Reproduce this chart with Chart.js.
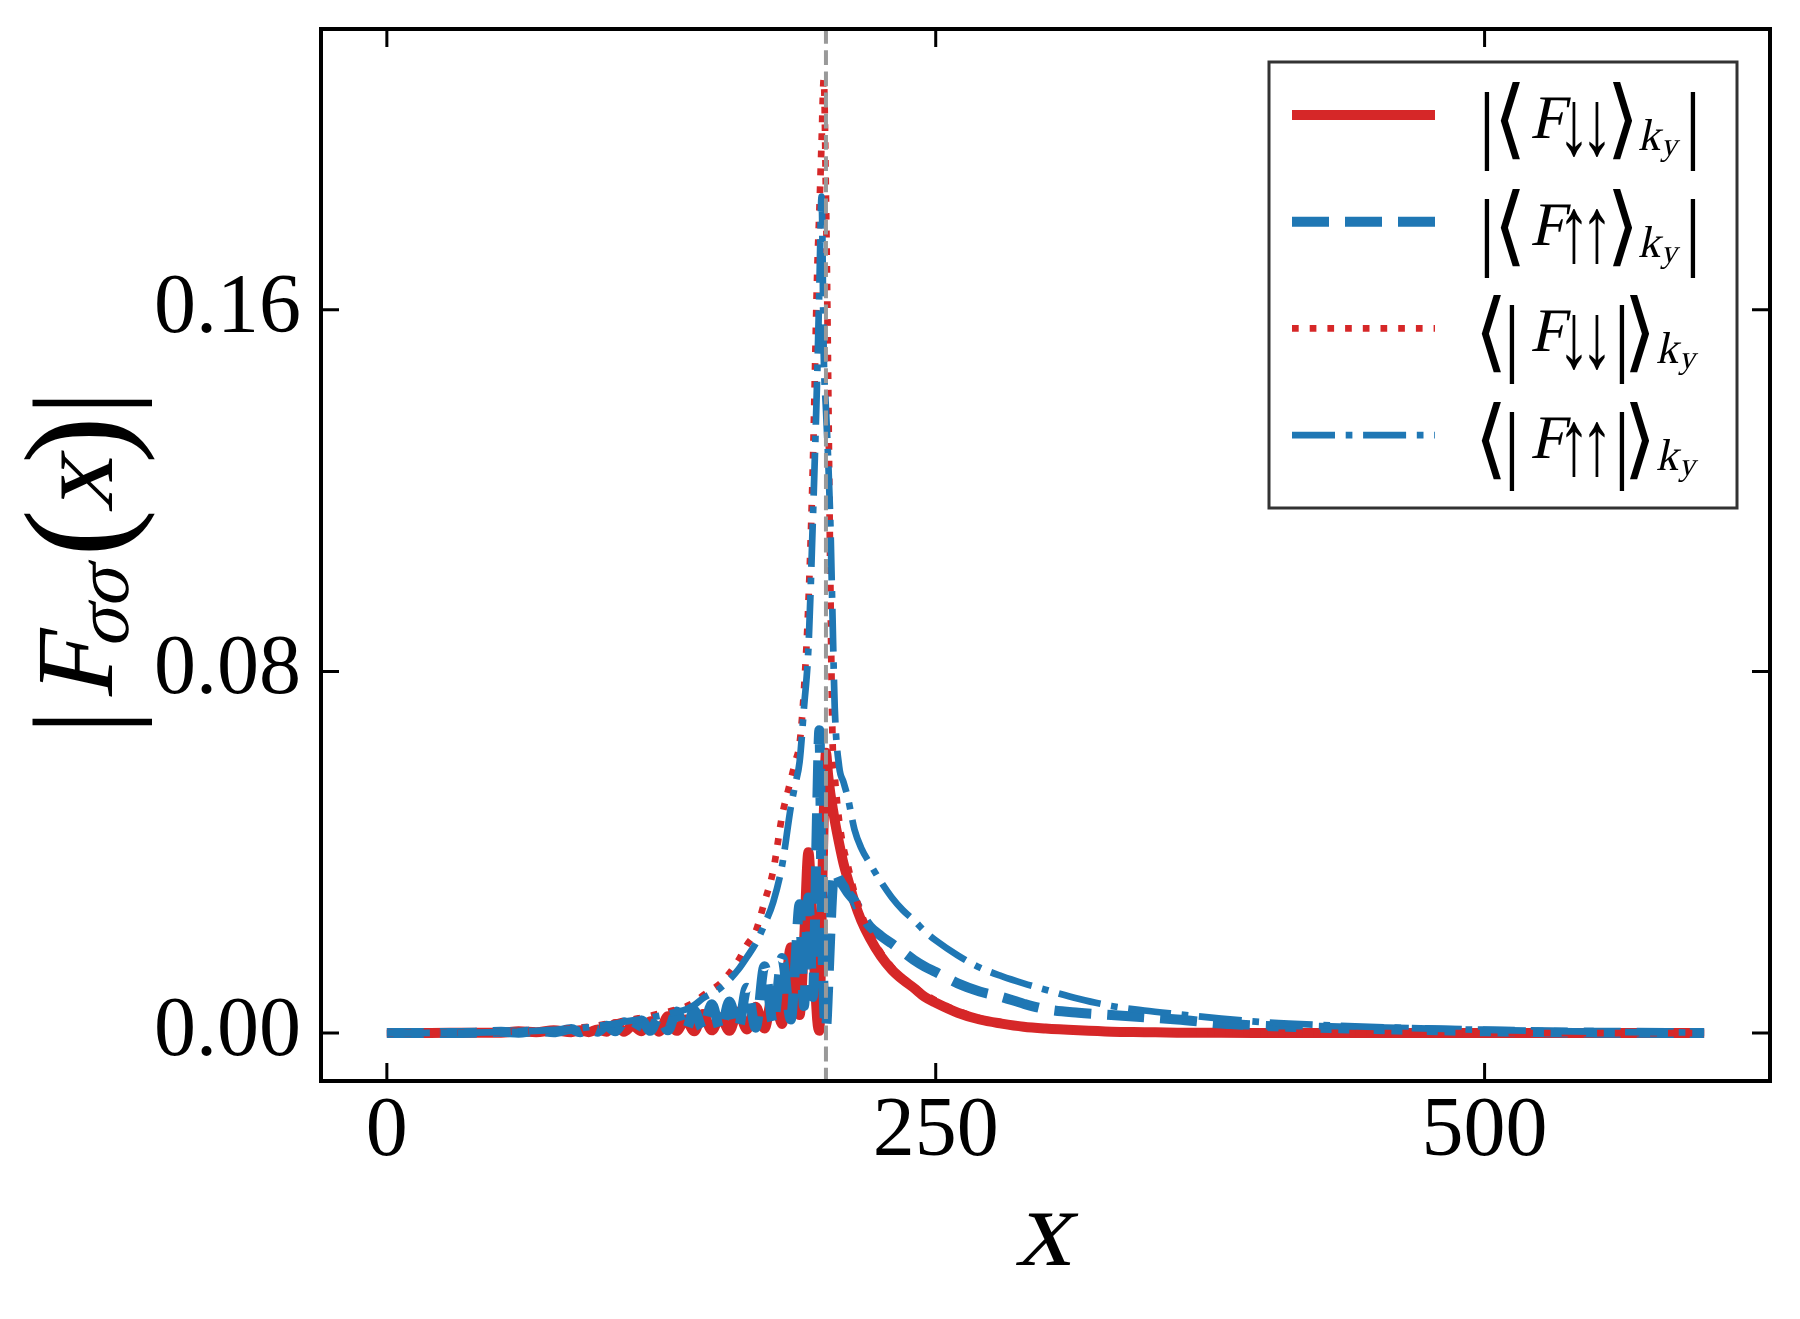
<!DOCTYPE html>
<html>
<head>
<meta charset="utf-8">
<title>|F_σσ(x)|</title>
<script src="https://cdn.jsdelivr.net/npm/chart.js@4.4.1/dist/chart.umd.min.js"></script>
<style>
  html, body { margin: 0; padding: 0; background: #fff; }
  #wrap { width: 1800px; height: 1319px; }
</style>
</head>
<body>
<div id="wrap"><canvas id="chart" width="1800" height="1319"></canvas></div>
<script>
// x-Werte (gemeinsam für alle vier Kurven)
const xPos = [
  0, 20, 40, 52, 60, 68, 76, 84, 88, 92,
  96, 100, 104, 108, 112, 116, 120, 124, 128, 132,
  136, 140, 144, 148, 152, 156, 160, 164, 168, 172,
  176, 180, 184, 186, 188, 190, 192, 194, 196, 197,
  198, 199, 200, 201, 202, 203, 204, 206, 208, 210,
  213, 216, 220, 225, 230, 235, 240, 245, 250, 260,
  270, 280, 290, 300, 315, 330, 345, 360, 380, 400,
  430, 460, 500, 550, 600
];

// |<F_down,down>_ky|  (rot, durchgezogen)
const redSolid = [
  0, 0.00002, 0.0001, 0.0001, 0.0004, 0.0002, 0.0006, 0.0002, 0.0006, 0.0002,
  0.0008, 0.0003, 0.0020, 0.0003, 0.0016, 0.0004, 0.0026, 0.0003, 0.0037, 0.0005,
  0.0030, 0.0004, 0.0042, 0.0006, 0.0035, 0.0005, 0.0048, 0.0008, 0.0058, 0.0010,
  0.0090, 0.0020, 0.0190, 0.0100, 0.0040, 0.0200, 0.0400, 0.0220, 0.0030, 0.0005,
  0.0250, 0.0480, 0.0620, 0.0570, 0.0530, 0.0500, 0.0470, 0.0420, 0.0375, 0.0340,
  0.0290, 0.0250, 0.0210, 0.0170, 0.0140, 0.0118, 0.0100, 0.0080, 0.0067, 0.0045,
  0.0030, 0.0021, 0.0014, 0.0010, 0.0006, 0.0003, 0.0002, 0.0001, 0.00005, 0.00003,
  0.00001, 0, 0, 0, 0
];

// |<F_up,up>_ky|  (blau, gestrichelt)
const blueDashed = [
  0, 0.00002, 0.0001, 0.0003, 0.0001, 0.0005, 0.0002, 0.0009, 0.0002, 0.0011,
  0.0003, 0.0016, 0.0004, 0.0024, 0.0003, 0.0028, 0.0005, 0.0036, 0.0006, 0.0048,
  0.0005, 0.0050, 0.0008, 0.0064, 0.0006, 0.0070, 0.0010, 0.0100, 0.0012, 0.0148,
  0.0020, 0.0166, 0.0030, 0.0150, 0.0285, 0.0060, 0.0300, 0.0080, 0.0500, 0.0670,
  0.0300, 0.0080, 0.0010, 0.0100, 0.0220, 0.0320, 0.0358, 0.0340, 0.0325, 0.0310,
  0.0292, 0.0265, 0.0236, 0.0215, 0.0198, 0.0180, 0.0162, 0.0147, 0.0135, 0.0110,
  0.0092, 0.0080, 0.0065, 0.0053, 0.0045, 0.0040, 0.0035, 0.0030, 0.0021, 0.0016,
  0.0011, 0.0008, 0.0004, 0.0001, 0.00003
];

// <|F_down,down|>_ky  (rot, gepunktet)
const redDotted = [
  0, 0.00005, 0.0001, 0.0002, 0.0004, 0.0005, 0.0008, 0.0010, 0.0012, 0.0014,
  0.0017, 0.0020, 0.0023, 0.0027, 0.0030, 0.0034, 0.0038, 0.0043, 0.0047, 0.0052,
  0.0058, 0.0068, 0.0083, 0.0096, 0.0110, 0.0132, 0.0160, 0.0195, 0.0225, 0.0290,
  0.0360, 0.0480, 0.0560, 0.0600, 0.0640, 0.0760, 0.0950, 0.1250, 0.1680, 0.1820,
  0.1970, 0.2110, 0.1850, 0.1450, 0.1000, 0.0650, 0.0570, 0.0470, 0.0410, 0.0370,
  0.0310, 0.0265, 0.0220, 0.0178, 0.0146, 0.0122, 0.0102, 0.0086, 0.0072, 0.0049,
  0.0033, 0.0023, 0.0016, 0.0011, 0.0007, 0.0004, 0.0003, 0.0002, 0.0001, 0.00005,
  0.00003, 0.00002, 0.00001, 0, 0
];

// <|F_up,up|>_ky  (blau, Strich-Punkt)
const blueDashDot = [
  0, 0.00005, 0.0001, 0.0002, 0.0003, 0.0005, 0.0007, 0.0009, 0.0011, 0.0013,
  0.0016, 0.0018, 0.0021, 0.0025, 0.0028, 0.0031, 0.0034, 0.0038, 0.0042, 0.0047,
  0.0052, 0.0062, 0.0077, 0.0088, 0.0100, 0.0118, 0.0140, 0.0168, 0.0198, 0.0240,
  0.0290, 0.0370, 0.0500, 0.0550, 0.0600, 0.0720, 0.0850, 0.1130, 0.1450, 0.1650,
  0.1850, 0.1500, 0.1380, 0.1270, 0.1130, 0.0920, 0.0720, 0.0590, 0.0555, 0.0520,
  0.0450, 0.0410, 0.0375, 0.0335, 0.0300, 0.0272, 0.0250, 0.0225, 0.0205, 0.0172,
  0.0145, 0.0126, 0.0110, 0.0096, 0.0076, 0.0060, 0.0050, 0.0042, 0.0032, 0.0024,
  0.0017, 0.0012, 0.0007, 0.0003, 0.0001
];

// Achsen
const xTicks = [0, 250, 500];
const xTickLabels = ['0', '250', '500'];
const yTicks = [0, 0.08, 0.16];
const yTickLabels = ['0.00', '0.08', '0.16'];
const xMin = -30, xMax = 630;
const yMin = -0.0106, yMax = 0.2221;
const xMarker = 200; // gestrichelte graue Linie

var serif = '"Liberation Serif", "DejaVu Serif", serif';

[redSolid, blueDashed, redDotted, blueDashDot].forEach(function(a) {
  if (a.length !== xPos.length) console.log('Längen passen nicht:', a.length, xPos.length);
});

var seriesList = [
  { label: '|⟨F↓↓⟩ky|', values: redSolid, color: '#d62728', width: 10, dash: [], order: 4, pfeil: '↓', aussen: true },
  { label: '|⟨F↑↑⟩ky|', values: blueDashed, color: '#1f77b4', width: 10, dash: [37, 16], order: 3, pfeil: '↑', aussen: true },
  { label: '⟨|F↓↓|⟩ky', values: redDotted, color: '#d62728', width: 6.7, dash: [6.7, 11], order: 2, pfeil: '↓', aussen: false },
  { label: '⟨|F↑↑|⟩ky', values: blueDashDot, color: '#1f77b4', width: 6.7, dash: [43, 10.7, 6.7, 10.7], order: 1, pfeil: '↑', aussen: false }
];

// Textteile zeichnen (zentriert auf p.x, Grundlinie bei 0)
// kursiv = aufrechte Serifenschrift, geschert
function zeichneTeile(ctx, teile, size) {
  ctx.textAlign = 'center';
  ctx.textBaseline = 'alphabetic';
  teile.forEach(function(p) {
    var s = size * (p.sc || 1);
    ctx.save();
    ctx.translate(p.x, p.dy || 0);
    if (p.it) ctx.transform(1, 0, -0.22, 1, 0, 0);
    if (p.sx) ctx.scale(p.sx, 1);
    ctx.font = s + 'px ' + serif;
    ctx.fillText(p.t, 0, 0);
    ctx.restore();
  });
}

function legendTeile(pfeil, aussen) {
  var pf = [
    { t: pfeil, x: 89, sc: 1.5, sx: 0.7, dy: 16 },
    { t: pfeil, x: 112, sc: 1.5, sx: 0.7, dy: 16 }
  ];
  var sub = [
    { t: 'k', x: aussen ? 164 : 182, it: true, sc: 0.72, dy: 12 },
    { t: 'y', x: aussen ? 184 : 202, it: true, sc: 0.52, dy: 17 }
  ];
  if (aussen) {
    return [
      { t: '|', x: 2, sc: 1.4, dy: 14 }, { t: '⟨', x: 25, sc: 1.4, dy: 10 }, { t: 'F', x: 62, it: true }
    ].concat(pf, [{ t: '⟩', x: 138, sc: 1.4, dy: 10 }], sub, [{ t: '|', x: 208, sc: 1.4, dy: 14 }]);
  }
  return [
    { t: '⟨', x: 6, sc: 1.4, dy: 10 }, { t: '|', x: 27, sc: 1.4, dy: 14 }, { t: 'F', x: 62, it: true }
  ].concat(pf, [{ t: '|', x: 137, sc: 1.4, dy: 14 }, { t: '⟩', x: 155, sc: 1.4, dy: 10 }], sub);
}

var rahmenPlugin = {
  id: 'rahmen',
  afterDraw: function(chart) {
    var ctx = chart.ctx;
    var a = chart.chartArea;
    var sx = chart.scales.x, sy = chart.scales.y;
    ctx.save();

    // graue Markierungslinie
    var mx = sx.getPixelForValue(xMarker);
    ctx.strokeStyle = '#999999';
    ctx.lineWidth = 4;
    ctx.setLineDash([14.8, 6.4]);
    ctx.beginPath();
    ctx.moveTo(mx, a.top);
    ctx.lineTo(mx, a.bottom);
    ctx.stroke();
    ctx.setLineDash([]);

    // Rahmen
    ctx.strokeStyle = '#000';
    ctx.lineWidth = 4;
    ctx.strokeRect(a.left, a.top, a.right - a.left, a.bottom - a.top);

    // Ticks nach innen, alle vier Seiten
    ctx.lineWidth = 3;
    var tl = 18;
    xTicks.forEach(function(v) {
      var px = sx.getPixelForValue(v);
      ctx.beginPath();
      ctx.moveTo(px, a.bottom); ctx.lineTo(px, a.bottom - tl);
      ctx.moveTo(px, a.top); ctx.lineTo(px, a.top + tl);
      ctx.stroke();
    });
    yTicks.forEach(function(v) {
      var py = sy.getPixelForValue(v);
      ctx.beginPath();
      ctx.moveTo(a.left, py); ctx.lineTo(a.left + tl, py);
      ctx.moveTo(a.right, py); ctx.lineTo(a.right - tl, py);
      ctx.stroke();
    });

    // Legende
    var lx = 1269, ly = 62, lw = 468, lh = 446;
    ctx.fillStyle = '#fff';
    ctx.fillRect(lx, ly, lw, lh);
    ctx.strokeStyle = '#333';
    ctx.lineWidth = 3;
    ctx.strokeRect(lx, ly, lw, lh);
    chart.data.datasets.forEach(function(ds, i) {
      var rowY = 115 + i * 106.7;
      ctx.strokeStyle = ds.borderColor;
      ctx.lineWidth = ds.borderWidth;
      ctx.lineCap = 'butt';
      ctx.setLineDash(ds.borderDash || []);
      ctx.beginPath();
      ctx.moveTo(1292, rowY);
      ctx.lineTo(1435, rowY);
      ctx.stroke();
      ctx.setLineDash([]);
      ctx.save();
      ctx.translate(1485, rowY + 23);
      ctx.fillStyle = '#000';
      zeichneTeile(ctx, legendTeile(seriesList[i].pfeil, seriesList[i].aussen), 62);
      ctx.restore();
    });

    // Achsentitel
    ctx.fillStyle = '#000';
    ctx.save();
    ctx.translate(1043, 1265);
    zeichneTeile(ctx, [{ t: 'x', x: 0, it: true }], 112);
    ctx.restore();

    ctx.save();
    ctx.translate(112, 562);
    ctx.rotate(-Math.PI / 2);
    zeichneTeile(ctx, [
      { t: '|', x: -160, sc: 1.2, dy: 12 }, { t: 'F', x: -108, it: true },
      { t: 'σ', x: -66, it: true, sc: 0.7, dy: 16 }, { t: 'σ', x: -26, it: true, sc: 0.7, dy: 16 },
      { t: '(', x: 29, sc: 1.3, dy: 12 }, { t: 'x', x: 77, it: true }, { t: ')', x: 122, sc: 1.3, dy: 12 },
      { t: '|', x: 159, sc: 1.2, dy: 12 }
    ], 110);
    ctx.restore();

    ctx.restore();
  }
};

var chart = new Chart(document.getElementById('chart').getContext('2d'), {
  type: 'line',
  data: {
    datasets: seriesList.map(s => ({
      label: s.label,
      data: xPos.map((x, i) => ({ x: x, y: s.values[i] })),
      borderColor: s.color,
      borderWidth: s.width,
      borderDash: s.dash,
      borderCapStyle: 'butt',
      borderJoinStyle: 'round',
      cubicInterpolationMode: 'monotone',
      pointRadius: 0,
      fill: false,
      order: s.order
    }))
  },
  options: {
    responsive: false,
    animation: false,
    devicePixelRatio: 1,
    layout: { padding: { top: 29, right: 30, left: 0, bottom: 0 } },
    plugins: { legend: { display: false }, tooltip: { enabled: false } },
    scales: {
      x: {
        type: 'linear',
        min: xMin,
        max: xMax,
        grid: { display: false, drawTicks: false },
        border: { display: false },
        afterBuildTicks: function(s) { s.ticks = xTicks.map(v => ({ value: v })); },
        afterFit: function(s) {
          s.height = 238;
          s.paddingLeft = 0; s.paddingRight = 0;
        },
        ticks: {
          autoSkip: false, maxRotation: 0, minRotation: 0, padding: 2, color: '#000',
          font: { family: serif, size: 84 },
          callback: function(v, i) { return xTickLabels[i]; }
        }
      },
      y: {
        type: 'linear',
        min: yMin,
        max: yMax,
        grid: { display: false, drawTicks: false },
        border: { display: false },
        afterBuildTicks: function(s) { s.ticks = yTicks.map(v => ({ value: v })); },
        afterFit: function(s) {
          s.width = 321;
          s.paddingTop = 0; s.paddingBottom = 0;
        },
        ticks: {
          autoSkip: false, padding: 20, color: '#000',
          font: { family: serif, size: 84 },
          callback: function(v, i) { return yTickLabels[i]; }
        }
      }
    }
  },
  plugins: [rahmenPlugin]
});
</script>
</body>
</html>
